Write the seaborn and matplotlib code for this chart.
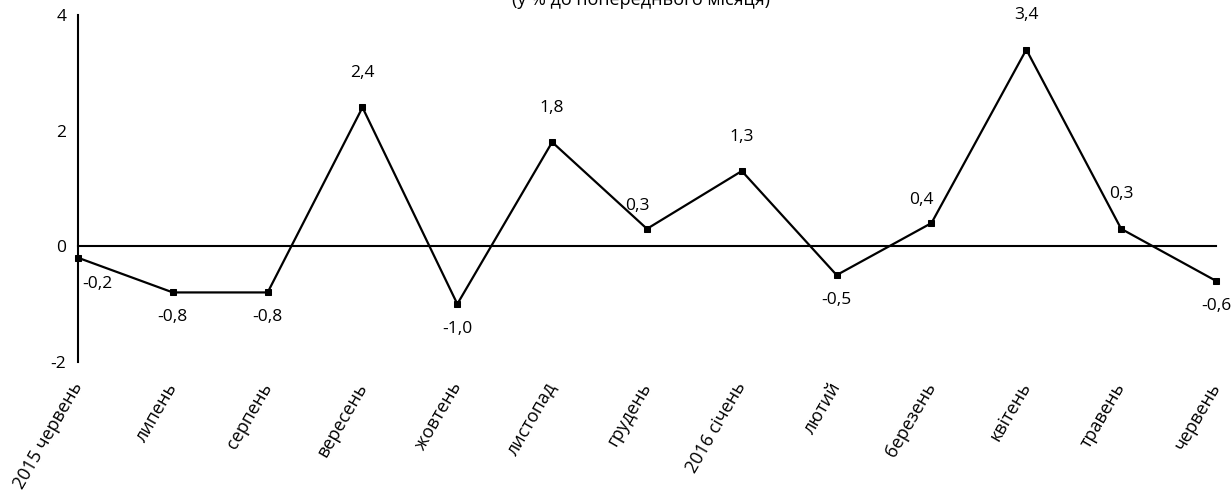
import seaborn as sns
import matplotlib.pyplot as plt
import pandas as pd

# Monthly change, % to previous month
months = ['2015 червень', 'липень', 'серпень', 'вересень', 'жовтень', 'листопад',
          'грудень', '2016 січень', 'лютий', 'березень', 'квітень', 'травень', 'червень']
values = [-0.2, -0.8, -0.8, 2.4, -1.0, 1.8, 0.3, 1.3, -0.5, 0.4, 3.4, 0.3, -0.6]
label_pos = ['right', 'below', 'below', 'above', 'below', 'above', 'aboveleft',
             'above', 'below', 'aboveleft', 'above', 'above', 'below']

df = pd.DataFrame({'pos': range(len(months)), 'value': values})

sns.set_style('white')
plt.rcParams['font.family'] = ['Open Sans', 'DejaVu Sans']
plt.rcParams['text.color'] = 'black'
plt.rcParams['axes.unicode_minus'] = False

fig = plt.figure(figsize=(12.32, 4.97), dpi=100)
ax = fig.add_axes([0.0633, 0.272, 0.9237, 0.698])

sns.lineplot(data=df, x='pos', y='value', ax=ax, color='black', linewidth=1.6,
             marker='s', markersize=5, markeredgecolor='black', clip_on=False)

offsets = {'above': (0, 19, 'center', 'bottom'),
           'below': (0, -12, 'center', 'top'),
           'right': (3, -13, 'left', 'top'),
           'aboveleft': (-7, 11, 'center', 'bottom')}
for i, v in enumerate(values):
    dx, dy, ha, va = offsets[label_pos[i]]
    ax.annotate(f'{v:.1f}'.replace('.', ','), (i, v), xytext=(dx, dy),
                textcoords='offset points', ha=ha, va=va, fontsize=12.5, color='black')

ax.spines['top'].set_visible(False)
ax.spines['right'].set_visible(False)
ax.spines['bottom'].set_position(('data', 0))
for s in ['left', 'bottom']:
    ax.spines[s].set_linewidth(1.5)
    ax.spines[s].set_color('black')
ax.tick_params(axis='x', direction='out', length=5, width=1.5, pad=94, colors='black')
ax.tick_params(axis='y', direction='out', length=5, width=1.5, labelsize=12.5, colors='black')

ax.set_xlim(0, len(months) - 1)
ax.set_ylim(-2, 4)
ax.set_yticks([-2, 0, 2, 4])
ax.set_xticks(range(len(months)))
ax.set_xticklabels(months, rotation=60, ha='right', va='center',
                   rotation_mode='anchor', fontsize=13)
ax.set_xlabel('')
ax.set_ylabel('')

fig.text(0.52, 0.982, '(у % до попереднього місяця)', ha='center', va='bottom', fontsize=13)

fig.savefig('out.png', dpi=100)
